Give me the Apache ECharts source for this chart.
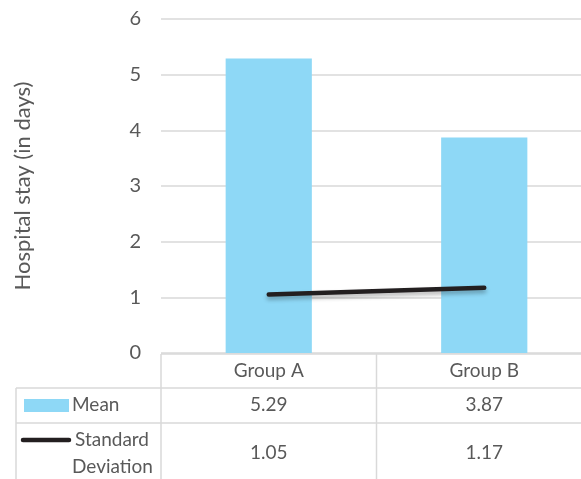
<!DOCTYPE html>
<html>
<head>
<meta charset="utf-8">
<script src="https://cdn.jsdelivr.net/npm/echarts@6/dist/echarts.min.js"></script>
<style>
  html, body { margin: 0; padding: 0; background: #fff; }
  #chart { width: 581px; height: 479px; }
</style>
</head>
<body>
<div id="chart"></div>
<script>
// Hospital stay by group: mean and standard deviation
const groups = ['Group A', 'Group B'];
const meanValues = [5.29, 3.87];
const sdValues = [1.05, 1.17];
const seriesNames = ['Mean', 'Standard\nDeviation'];
const yTicks = [0, 1, 2, 3, 4, 5, 6];

const FONT = 'Lato';
const TEXT = '#595959';
const RULE = '#d9d9d9';
const BAR = '#8ed8f6';
const LINE = '#231f20';

const chart = echarts.init(document.getElementById('chart'), null, { renderer: 'canvas' });

chart.setOption({
  animation: false,
  textStyle: { fontFamily: FONT },
  grid: { left: 161, width: 431, top: 19, bottom: 126, containLabel: false, outerBoundsMode: 'none' },
  xAxis: {
    type: 'category',
    data: groups,
    axisLine: { show: false },
    axisTick: { show: false },
    axisLabel: { show: false },
    splitLine: { show: false }
  },
  yAxis: {
    type: 'value',
    min: yTicks[0],
    max: yTicks[yTicks.length - 1],
    interval: 1,
    name: 'Hospital stay (in days)',
    nameLocation: 'middle',
    nameGap: 127,
    nameTextStyle: { color: TEXT, fontSize: 22, fontFamily: FONT },
    axisLine: { show: false },
    axisTick: { show: false },
    axisLabel: { color: TEXT, fontSize: 20, margin: 20, fontFamily: FONT },
    splitLine: { lineStyle: { color: RULE, width: 1.5 } }
  },
  series: [
    {
      name: 'Mean',
      type: 'bar',
      data: meanValues,
      barWidth: '40%',
      itemStyle: { color: BAR }
    },
    {
      name: 'Standard Deviation',
      type: 'line',
      data: sdValues,
      symbol: 'none',
      lineStyle: {
        color: LINE, width: 4.5, cap: 'round',
        shadowColor: 'rgba(0,0,0,0.3)', shadowBlur: 4, shadowOffsetY: 3
      },
      z: 5
    }
  ]
});

// Data table under the plot
function drawTable() {
  const W = 581;
  const top = 354, row1 = 388, row2 = 423, bottom = 479;
  const tableLeft = 16;
  const xA = chart.convertToPixel({ xAxisIndex: 0 }, 0);
  const xB = chart.convertToPixel({ xAxisIndex: 0 }, 1);
  const band = xB - xA;
  const plotLeft = xA - band / 2;
  const mid = xA + band / 2;
  const els = [];
  const line = (x1, y1, x2, y2) => els.push({
    type: 'line', shape: { x1, y1, x2, y2 },
    style: { stroke: RULE, lineWidth: 1.5 }, silent: true
  });
  line(plotLeft, top, W, top);
  line(tableLeft, row1, W, row1);
  line(tableLeft, row2, W, row2);
  line(tableLeft, row1, tableLeft, bottom);
  line(plotLeft, top, plotLeft, bottom);
  line(mid, top, mid, bottom);

  const txt = (x, y, s, align) => els.push({
    type: 'text', x, y,
    style: {
      text: s, fill: TEXT, font: '19px ' + FONT,
      align: align || 'center', verticalAlign: 'middle'
    },
    silent: true
  });
  groups.forEach((g, i) => {
    const cx = chart.convertToPixel({ xAxisIndex: 0 }, i);
    txt(cx, 371, g);
    txt(cx, 405, meanValues[i].toFixed(2));
    txt(cx, 453, sdValues[i].toFixed(2));
  });

  // legend keys
  els.push({ type: 'rect', shape: { x: 24, y: 399, width: 45, height: 13 },
    style: { fill: BAR }, silent: true });
  txt(72, 405, seriesNames[0], 'left');
  els.push({ type: 'line', shape: { x1: 23, y1: 440, x2: 69, y2: 440 },
    style: { stroke: LINE, lineWidth: 4.5, lineCap: 'round' }, silent: true });
  txt(75, 440, seriesNames[1].split('\n')[0], 'left');
  txt(72, 467, seriesNames[1].split('\n')[1], 'left');

  chart.setOption({ graphic: { elements: els } });
}
drawTable();
</script>
</body>
</html>
